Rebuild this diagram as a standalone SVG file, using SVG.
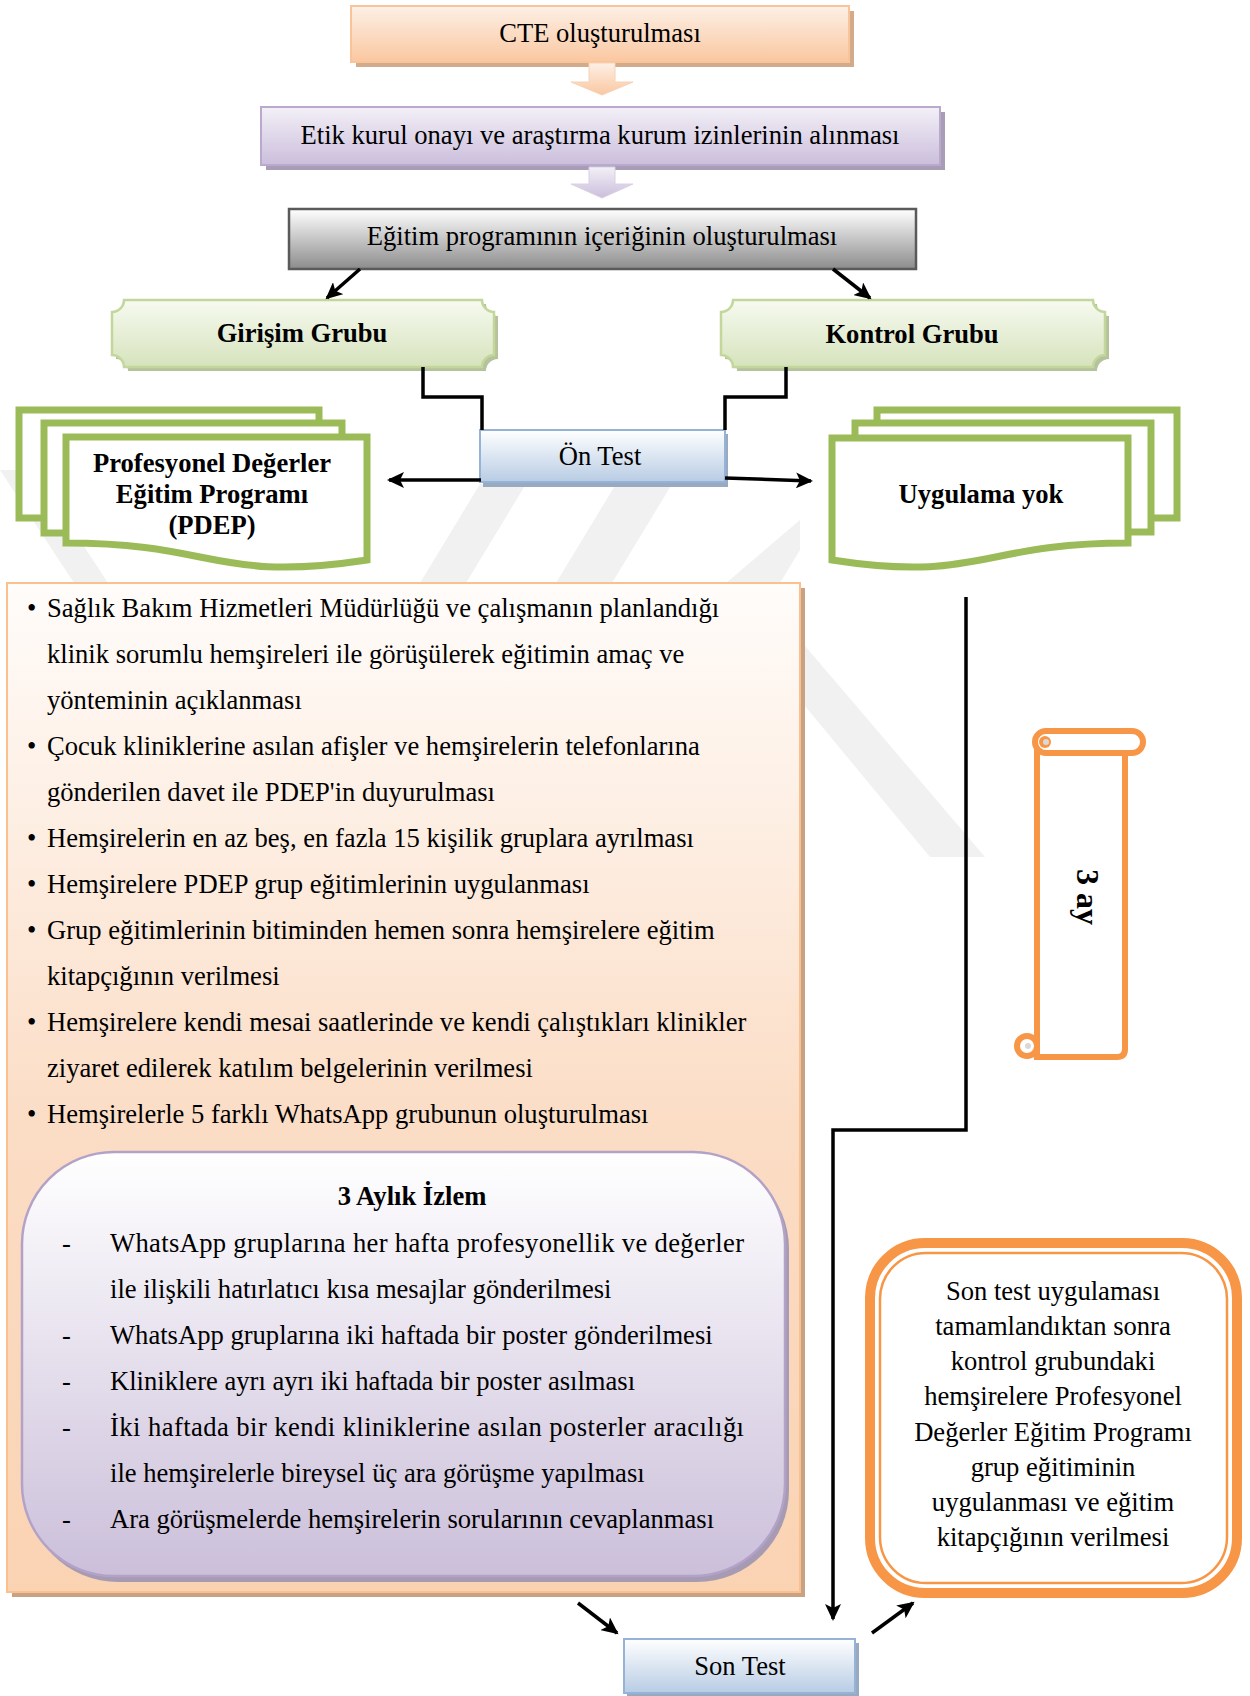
<svg xmlns="http://www.w3.org/2000/svg" width="1250" height="1696" viewBox="0 0 1250 1696">
  <style>
    text { font-family: "Liberation Serif", "Times New Roman", serif; fill: #000; }
    .t24 { font-size: 26.6px; }
    .b24 { font-size: 26.6px; font-weight: bold; }
    .mid { text-anchor: middle; }
    .conn { stroke: #000; stroke-width: 3.5; fill: none; }
    .doc { fill: #fff; stroke: #9bbb59; stroke-width: 7; stroke-linejoin: miter; }
    .wm { fill: #f1f1f1; }
  </style>
  <defs>
    <linearGradient id="gPeach" x1="0" y1="0" x2="0" y2="1">
      <stop offset="0" stop-color="#fdf0e6"/>
      <stop offset="1" stop-color="#fac7a0"/>
    </linearGradient>
    <linearGradient id="gPurple" x1="0" y1="0" x2="0" y2="1">
      <stop offset="0" stop-color="#f3f0f7"/>
      <stop offset="1" stop-color="#cbbedc"/>
    </linearGradient>
    <linearGradient id="gGrey" x1="0" y1="0" x2="0" y2="1">
      <stop offset="0" stop-color="#ffffff"/>
      <stop offset="1" stop-color="#8c8c8c"/>
    </linearGradient>
    <linearGradient id="gGreen" x1="0" y1="0" x2="0" y2="1">
      <stop offset="0" stop-color="#f7faf1"/>
      <stop offset="1" stop-color="#d6e3bc"/>
    </linearGradient>
    <linearGradient id="gBlue" x1="0" y1="0" x2="0" y2="1">
      <stop offset="0" stop-color="#ffffff"/>
      <stop offset="1" stop-color="#b8cce4"/>
    </linearGradient>
    <linearGradient id="gBig" x1="0" y1="0" x2="0" y2="1">
      <stop offset="0" stop-color="#fffcfa"/>
      <stop offset="0.55" stop-color="#fbdcc4"/>
      <stop offset="1" stop-color="#fad3b3"/>
    </linearGradient>
    <linearGradient id="gInner" x1="0" y1="0" x2="0" y2="1">
      <stop offset="0" stop-color="#ffffff"/>
      <stop offset="1" stop-color="#cbbfda"/>
    </linearGradient>
    <marker id="ah" markerUnits="userSpaceOnUse" markerWidth="18" markerHeight="16" refX="15" refY="8" orient="auto">
      <path d="M0,0 L17,8 L0,16 L4,8 Z" fill="#000"/>
    </marker>
  </defs>

  <!-- faint background logo stripes -->
  <g id="watermark">
    <polygon class="wm" points="0,470 34,470 108,583 74,583"/>
    <polygon class="wm" points="420,583 466,583 526,484 480,484"/>
    <polygon class="wm" points="556,583 612,583 672,484 616,484"/>
    <polygon class="wm" points="726,583 780,583 800,550 800,520"/>
    <polygon class="wm" points="800,640 800,700 930,857 985,857"/>
  </g>

  <!-- process boxes -->
  <g id="cte">
    <rect x="356" y="11" width="498" height="56" fill="#d2ab8d"/>
    <rect x="351" y="6" width="498" height="56" fill="url(#gPeach)" stroke="#f9c49a" stroke-width="2"/>
    <text class="t24 mid" x="600" y="42">CTE oluşturulması</text>
  </g>
  <g id="arrow-block-1">
    <polygon points="589,63 615,63 615,82 633,82 602,95 571,82 589,82" fill="url(#gPeach)" stroke="#f6d2b6" stroke-width="1"/>
  </g>
  <g id="etik">
    <rect x="266" y="112" width="679" height="58" fill="#a89cb6"/>
    <rect x="261" y="107" width="679" height="58" fill="url(#gPurple)" stroke="#b9a9cd" stroke-width="2"/>
    <text class="t24 mid" x="600" y="144">Etik kurul onayı ve araştırma kurum izinlerinin alınması</text>
  </g>
  <g id="arrow-block-2">
    <polygon points="589,167 615,167 615,184 633,184 602,198 571,184 589,184" fill="url(#gPurple)" stroke="#d9d0e4" stroke-width="1"/>
  </g>
  <g id="egitim">
    <rect x="289" y="209" width="627" height="60" fill="url(#gGrey)" stroke="#5a5a5a" stroke-width="2.5"/>
    <text class="t24 mid" x="602" y="245">Eğitim programının içeriğinin oluşturulması</text>
  </g>

  <g id="girisim">
    <path d="M124,300 H482 A12,12 0 0 0 494,312 V355 A12,12 0 0 0 482,367 H124 A12,12 0 0 0 112,355 V312 A12,12 0 0 0 124,300 Z" transform="translate(4,4)" fill="#b4c39b"/>
    <path d="M124,300 H482 A12,12 0 0 0 494,312 V355 A12,12 0 0 0 482,367 H124 A12,12 0 0 0 112,355 V312 A12,12 0 0 0 124,300 Z" fill="url(#gGreen)" stroke="#c3d69b" stroke-width="2.5"/>
    <text class="b24 mid" x="302" y="342">Girişim Grubu</text>
  </g>
  <g id="kontrol">
    <path d="M733,300 H1093 A12,12 0 0 0 1105,312 V355 A12,12 0 0 0 1093,367 H733 A12,12 0 0 0 721,355 V312 A12,12 0 0 0 733,300 Z" transform="translate(4,4)" fill="#b4c39b"/>
    <path d="M733,300 H1093 A12,12 0 0 0 1105,312 V355 A12,12 0 0 0 1093,367 H733 A12,12 0 0 0 721,355 V312 A12,12 0 0 0 733,300 Z" fill="url(#gGreen)" stroke="#c3d69b" stroke-width="2.5"/>
    <text class="b24 mid" x="912" y="343">Kontrol Grubu</text>
  </g>

  <g id="on-test">
    <rect x="483" y="434" width="245" height="53" fill="#98a9c0"/>
    <rect x="480" y="430" width="245" height="52" fill="url(#gBlue)" stroke="#95b3d7" stroke-width="2"/>
    <text class="t24 mid" x="600" y="465">Ön Test</text>
  </g>

  <g id="pdep-docs">
    <rect class="doc" x="19" y="410" width="300" height="108"/>
    <rect class="doc" x="44" y="423" width="298" height="110"/>
    <path class="doc" d="M367,437 H66 V543 C216,543 216,583 367,560 Z"/>
    <text class="b24 mid" x="212" y="472">Profesyonel Değerler</text>
    <text class="b24 mid" x="212" y="503">Eğitim Programı</text>
    <text class="b24 mid" x="212" y="534">(PDEP)</text>
  </g>

  <g id="uygulama-yok">
    <rect class="doc" x="877" y="410" width="300" height="108"/>
    <rect class="doc" x="855" y="423" width="296" height="109"/>
    <path class="doc" d="M832,438 H1128 V543 C980,543 980,583 832,560 Z"/>
    <text class="b24 mid" x="981" y="503">Uygulama yok</text>
  </g>

  <g id="pdep-steps">
    <rect x="12" y="588" width="793" height="1009" fill="#c9a283"/>
    <rect x="7" y="583" width="793" height="1009" fill="url(#gBig)" stroke="#fac090" stroke-width="2"/>
    <g class="t24">
      <text x="27" y="617">•</text>
      <text x="47" y="617">Sağlık Bakım Hizmetleri Müdürlüğü ve çalışmanın planlandığı</text>
      <text x="47" y="663">klinik sorumlu hemşireleri ile görüşülerek eğitimin amaç ve</text>
      <text x="47" y="709">yönteminin açıklanması</text>
      <text x="27" y="755">•</text>
      <text x="47" y="755">Çocuk kliniklerine asılan afişler ve hemşirelerin telefonlarına</text>
      <text x="47" y="801">gönderilen davet ile PDEP'in duyurulması</text>
      <text x="27" y="847">•</text>
      <text x="47" y="847">Hemşirelerin en az beş, en fazla 15 kişilik gruplara ayrılması</text>
      <text x="27" y="893">•</text>
      <text x="47" y="893">Hemşirelere PDEP grup eğitimlerinin uygulanması</text>
      <text x="27" y="939">•</text>
      <text x="47" y="939">Grup eğitimlerinin bitiminden hemen sonra hemşirelere eğitim</text>
      <text x="47" y="985">kitapçığının verilmesi</text>
      <text x="27" y="1031">•</text>
      <text x="47" y="1031">Hemşirelere kendi mesai saatlerinde ve kendi çalıştıkları klinikler</text>
      <text x="47" y="1077">ziyaret edilerek katılım belgelerinin verilmesi</text>
      <text x="27" y="1123">•</text>
      <text x="47" y="1123">Hemşirelerle 5 farklı WhatsApp grubunun oluşturulması</text>
    </g>
  </g>

  <g id="izlem">
    <rect x="26" y="1157" width="763" height="425" rx="92" ry="92" fill="#a69bb3"/>
    <rect x="22" y="1152" width="763" height="424" rx="92" ry="92" fill="url(#gInner)" stroke="#b3a2c7" stroke-width="2.5"/>
    <text class="b24 mid" x="412" y="1205">3 Aylık İzlem</text>
    <g class="t24">
      <text x="62" y="1252">-</text>
      <text x="110" y="1252" textLength="634" lengthAdjust="spacing">WhatsApp gruplarına her hafta profesyonellik ve değerler</text>
      <text x="110" y="1298">ile ilişkili hatırlatıcı kısa mesajlar gönderilmesi</text>
      <text x="62" y="1344">-</text>
      <text x="110" y="1344">WhatsApp gruplarına iki haftada bir poster gönderilmesi</text>
      <text x="62" y="1390">-</text>
      <text x="110" y="1390">Kliniklere ayrı ayrı iki haftada bir poster asılması</text>
      <text x="62" y="1436">-</text>
      <text x="110" y="1436" textLength="634" lengthAdjust="spacing">İki haftada bir kendi kliniklerine asılan posterler aracılığı</text>
      <text x="110" y="1482">ile hemşirelerle bireysel üç ara görüşme yapılması</text>
      <text x="62" y="1528">-</text>
      <text x="110" y="1528">Ara görüşmelerde hemşirelerin sorularının cevaplanması</text>
    </g>
  </g>

  <g id="uc-ay">
    <path d="M1037,742 V1057 H1117 Q1125,1057 1125,1049 V753" fill="#fff" stroke="#f79646" stroke-width="6"/>
    <rect x="1035" y="731" width="108" height="22" rx="11" ry="11" fill="#fff" stroke="#f79646" stroke-width="6"/>
    <circle cx="1045" cy="742" r="6" fill="#f79646"/>
    <circle cx="1046" cy="742" r="3" fill="#d9d9d9"/>
    <circle cx="1027" cy="1046" r="10" fill="#fff" stroke="#f79646" stroke-width="6"/>
    <circle cx="1028" cy="1046" r="3" fill="#d9d9d9"/>
    <text class="b24 mid" style="font-size:32px" transform="translate(1077,897) rotate(90)" x="0" y="0">3 ay</text>
  </g>

  <g id="kontrol-egitim">
    <rect x="870" y="1243" width="367" height="350" rx="55" ry="55" fill="#fff" stroke="#f79646" stroke-width="10"/>
    <rect x="880" y="1253" width="347" height="330" rx="46" ry="46" fill="none" stroke="#f79646" stroke-width="2.5"/>
    <g class="t24 mid">
      <text x="1053" y="1300">Son test uygulaması</text>
      <text x="1053" y="1335">tamamlandıktan sonra</text>
      <text x="1053" y="1370">kontrol grubundaki</text>
      <text x="1053" y="1405">hemşirelere Profesyonel</text>
      <text x="1053" y="1441">Değerler Eğitim Programı</text>
      <text x="1053" y="1476">grup eğitiminin</text>
      <text x="1053" y="1511">uygulanması ve eğitim</text>
      <text x="1053" y="1546">kitapçığının verilmesi</text>
    </g>
  </g>

  <g id="son-test">
    <rect x="627" y="1643" width="232" height="55" fill="#98a9c0"/>
    <rect x="624" y="1639" width="231" height="54" fill="url(#gBlue)" stroke="#95b3d7" stroke-width="2"/>
    <text class="t24 mid" x="740" y="1675">Son Test</text>
  </g>

  <!-- connectors -->
  <g id="connectors">
    <line class="conn" x1="360" y1="269" x2="327" y2="298" marker-end="url(#ah)"/>
    <line class="conn" x1="833" y1="269" x2="870" y2="298" marker-end="url(#ah)"/>
    <polyline class="conn" points="423,367 423,397 482,397 482,430"/>
    <polyline class="conn" points="786,367 786,397 725,397 725,430"/>
    <line class="conn" x1="481" y1="480" x2="389" y2="480" marker-end="url(#ah)"/>
    <line class="conn" x1="725" y1="478" x2="811" y2="481" marker-end="url(#ah)"/>
    <polyline class="conn" points="966,597 966,1130 833,1130 833,1619" marker-end="url(#ah)"/>
    <line class="conn" x1="578" y1="1603" x2="617" y2="1633" marker-end="url(#ah)"/>
    <line class="conn" x1="872" y1="1633" x2="913" y2="1603" marker-end="url(#ah)"/>
  </g>
</svg>
